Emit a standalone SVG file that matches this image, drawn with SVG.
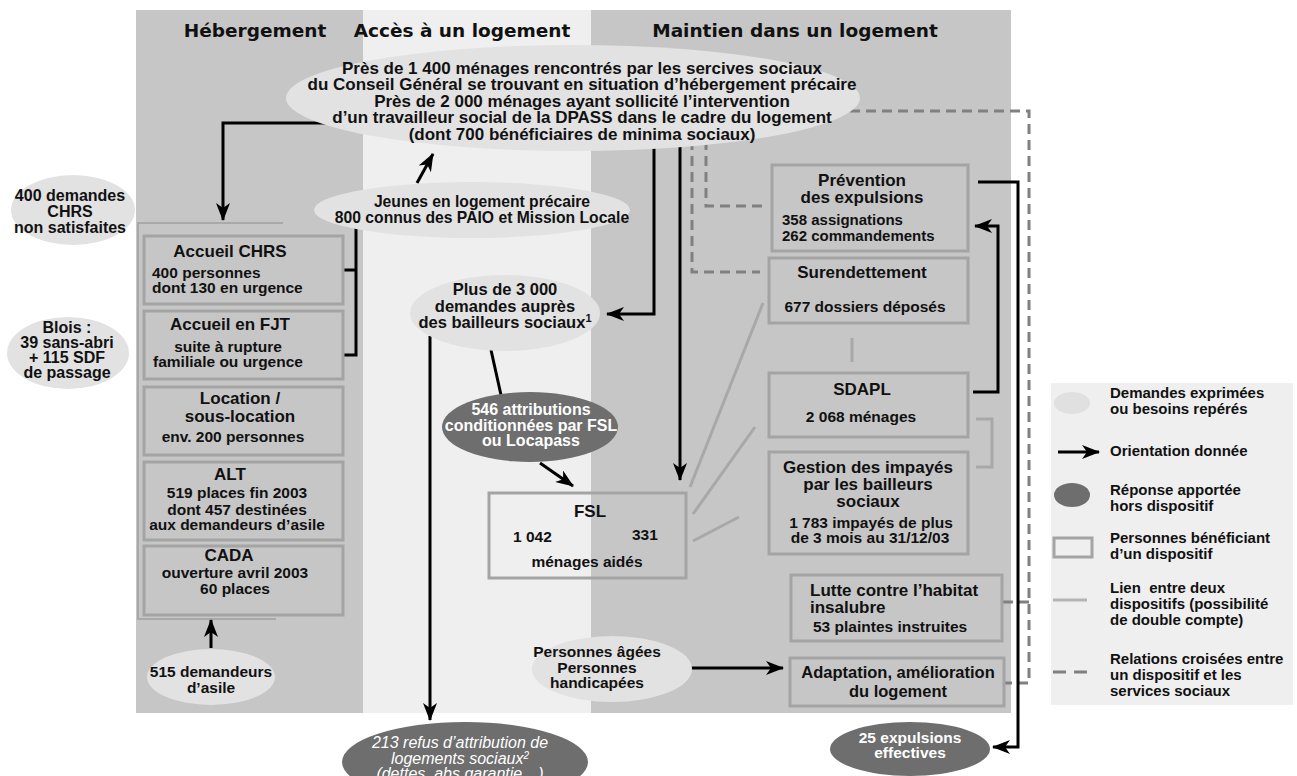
<svg xmlns="http://www.w3.org/2000/svg" width="1297" height="776" viewBox="0 0 1297 776">
<defs>
<marker id="ah" viewBox="0 0 18 14" markerWidth="18" markerHeight="14" refX="17" refY="7" orient="auto" markerUnits="userSpaceOnUse">
<path d="M0,0 L18,7 L0,14 L5,7 z" fill="#000"/>
</marker>
<style>
.pd{fill:#c6c6c6}
.pl{fill:#efefef}
.req{fill:#e2e2e2}
.resp{fill:#6e6e6e}
.box{fill:none;stroke:#a4a4a4;stroke-width:3}
.t{font-family:"Liberation Sans",Arial,sans-serif;font-weight:bold;fill:#111}
.w{fill:#fff}
.h{font-family:"DejaVu Sans",sans-serif;font-weight:bold;font-size:18.5px;fill:#111;text-anchor:middle}
.c{text-anchor:middle}
.s17{font-size:17px}
.s16{font-size:16px}
.s15{font-size:15.5px}
.arr{fill:none;stroke:#000;stroke-width:3;marker-end:url(#ah)}
.ln{fill:none;stroke:#000;stroke-width:3}
.lk{fill:none;stroke:#a8a8a8;stroke-width:3}
.ds{fill:none;stroke:#808080;stroke-width:3;stroke-dasharray:10 6}
.it{font-family:"Liberation Sans",Arial,sans-serif;font-style:italic;font-size:16px;fill:#fff;text-anchor:middle}
.lg{font-family:"Liberation Sans",Arial,sans-serif;font-weight:bold;font-size:15px;fill:#111;white-space:pre}
</style>
</defs>
<rect width="1297" height="776" fill="#fff"/>
<g id="panels">
<rect class="pd" x="136" y="10" width="227" height="703"/>
<rect class="pl" x="363" y="10" width="228" height="703"/>
<rect class="pd" x="591" y="10" width="420" height="703"/>
<path d="M283,223 H138 V619 H276" fill="none" stroke="#a0a0a0" stroke-width="1.5"/>
<text class="h" x="255" y="37">Hébergement</text>
<text class="h" x="462" y="37">Accès à un logement</text>
<text class="h" x="795" y="37">Maintien dans un logement</text>
</g>
<g id="connectors">
<path class="ds" d="M706,140 V206 H765"/>
<path class="ds" d="M692,140 V272 H760"/>
<path class="ds" d="M850,111 H1029 V683 H1004"/>
<path class="ds" d="M1003,602 H1029"/>
<path class="arr" d="M330,123 H223 V220"/>
<path class="ln" d="M343,270 H356 M356,228 V355 H343"/>
<path class="arr" d="M417,183 L433,154"/>
<path class="arr" d="M654,140 V314 H607"/>
<path class="arr" d="M680,140 V480"/>
<path class="ln" d="M491,350 L501,395"/>
<path class="arr" d="M540,463 L573,486"/>
<path class="arr" d="M430,336 V720"/>
<path class="arr" d="M211,648 V620"/>
<path class="arr" d="M690,668 H783"/>
<path class="arr" d="M978,182 H1018 V747 H993"/>
<path class="arr" d="M973,392 H998 V226 H975"/>
<path class="lk" d="M690,487 L763,303"/>
<path class="lk" d="M693,514 L755,427"/>
<path class="lk" d="M693,541 L739,517"/>
<path class="lk" d="M852,338 V362"/>
<path class="lk" d="M976,419 H992 V467 H976"/>
</g>
<g id="n-top">
<ellipse class="req" cx="573" cy="98" rx="287" ry="53"/>
<text class="t s17 c" x="582" y="73.5">Près de 1 400 ménages rencontrés par les sercives sociaux</text>
<text class="t s17 c" x="582" y="90">du Conseil Général se trouvant en situation d’hébergement précaire</text>
<text class="t s17 c" x="582" y="106.5">Près de 2 000 ménages ayant sollicité l’intervention</text>
<text class="t s17 c" x="582" y="123">d’un travailleur social de la DPASS dans le cadre du logement</text>
<text class="t s17 c" x="582" y="139.5">(dont 700 bénéficiaires de minima sociaux)</text>
</g>
<g id="n-400">
<ellipse class="req" cx="73" cy="210" rx="62" ry="35"/>
<text class="t s16 c" x="70" y="201">400 demandes</text>
<text class="t s16 c" x="70" y="217">CHRS</text>
<text class="t s16 c" x="70" y="233">non satisfaites</text>
</g>
<g id="n-blois">
<ellipse class="req" cx="68" cy="353" rx="61" ry="36"/>
<text class="t s16 c" x="67" y="333">Blois :</text>
<text class="t s16 c" x="67" y="348">39 sans-abri</text>
<text class="t s16 c" x="67" y="363">+ 115 SDF</text>
<text class="t s16 c" x="67" y="378">de passage</text>
</g>
<g id="n-chrs">
<rect class="box" x="144" y="236" width="199" height="68"/>
<text class="t s17 c" x="230" y="257">Accueil CHRS</text>
<text class="t s15" x="152" y="278">400 personnes</text>
<text class="t s15" x="152" y="293">dont 130 en urgence</text>
</g>
<g id="n-fjt">
<rect class="box" x="144" y="311" width="199" height="68"/>
<text class="t s17 c" x="230" y="330">Accueil en FJT</text>
<text class="t s15 c" x="228" y="352">suite à rupture</text>
<text class="t s15 c" x="228" y="367">familiale ou urgence</text>
</g>
<g id="n-location">
<rect class="box" x="144" y="387" width="199" height="68"/>
<text class="t s17 c" x="240" y="404">Location /</text>
<text class="t s17 c" x="240" y="422">sous-location</text>
<text class="t s15 c" x="233" y="442">env. 200 personnes</text>
</g>
<g id="n-alt">
<rect class="box" x="144" y="462" width="199" height="78"/>
<text class="t s17 c" x="230" y="480">ALT</text>
<text class="t s15 c" x="237" y="498">519 places fin 2003</text>
<text class="t s15 c" x="237" y="515">dont 457 destinées</text>
<text class="t s15 c" x="237" y="530">aux demandeurs d’asile</text>
</g>
<g id="n-cada">
<rect class="box" x="144" y="546" width="199" height="69"/>
<text class="t s17 c" x="229" y="561">CADA</text>
<text class="t s15 c" x="235" y="578">ouverture avril 2003</text>
<text class="t s15 c" x="235" y="594">60 places</text>
</g>
<g id="n-515">
<ellipse class="req" cx="211" cy="677" rx="64" ry="28"/>
<text class="t s15 c" x="211" y="677">515 demandeurs</text>
<text class="t s15 c" x="211" y="693">d’asile</text>
</g>
<g id="n-jeunes">
<ellipse class="req" cx="472" cy="210" rx="158" ry="28"/>
<text class="t c" style="font-size:15.7px" x="482" y="207">Jeunes en logement précaire</text>
<text class="t c" style="font-size:15.7px" x="482" y="223">800 connus des PAIO et Mission Locale</text>
</g>
<g id="n-3000">
<ellipse class="req" cx="505" cy="313" rx="95" ry="38"/>
<text class="t c" style="font-size:16.5px" x="505" y="295">Plus de 3 000</text>
<text class="t c" style="font-size:16.5px" x="505" y="312">demandes auprès</text>
<text class="t c" style="font-size:16.5px" x="505" y="328">des bailleurs sociaux<tspan font-size="11" dy="-6">1</tspan></text>
</g>
<g id="n-546">
<ellipse class="resp" cx="530" cy="427" rx="88" ry="35"/>
<text class="t s16 c w" x="531" y="415">546 attributions</text>
<text class="t s16 c w" x="531" y="431">conditionnées par FSL</text>
<text class="t s16 c w" x="531" y="446">ou Locapass</text>
</g>
<g id="n-fsl">
<rect class="box" x="489" y="493" width="197" height="85"/>
<text class="t s17 c" x="590" y="517">FSL</text>
<text class="t s15" x="513" y="542">1 042</text>
<text class="t s15" x="632" y="540">331</text>
<text class="t s15 c" x="587" y="567">ménages aidés</text>
</g>
<g id="n-213">
<ellipse class="resp" cx="465" cy="762" rx="123" ry="40"/>
<text class="it" x="460" y="748">213 refus d’attribution de</text>
<text class="it" x="460" y="764">logements sociaux<tspan font-size="10" dy="-5">2</tspan></text>
<text class="it" x="460" y="779">(dettes, abs garantie…)</text>
</g>
<g id="n-prevention">
<rect class="box" x="772" y="165" width="196" height="86"/>
<text class="t s17 c" x="862" y="186">Prévention</text>
<text class="t s17 c" x="862" y="203">des expulsions</text>
<text class="t" style="font-size:15px" x="782" y="225">358 assignations</text>
<text class="t" style="font-size:15px" x="782" y="241">262 commandements</text>
</g>
<g id="n-surendettement">
<rect class="box" x="769" y="258" width="199" height="65"/>
<text class="t s17 c" x="862" y="278">Surendettement</text>
<text class="t s15 c" x="865" y="312">677 dossiers déposés</text>
</g>
<g id="n-sdapl">
<rect class="box" x="769" y="373" width="199" height="64"/>
<text class="t s17 c" x="862" y="395">SDAPL</text>
<text class="t s15 c" x="861" y="422">2 068 ménages</text>
</g>
<g id="n-gestion">
<rect class="box" x="769" y="452" width="199" height="102"/>
<text class="t s17 c" x="868" y="473">Gestion des impayés</text>
<text class="t s17 c" x="868" y="490">par les bailleurs</text>
<text class="t s17 c" x="868" y="507">sociaux</text>
<text class="t s15 c" x="871" y="528">1 783 impayés de plus</text>
<text class="t s15 c" x="870" y="543">de 3 mois au 31/12/03</text>
</g>
<g id="n-lutte">
<rect class="box" x="791" y="575" width="211" height="66"/>
<text class="t s17" x="810" y="596">Lutte contre l’habitat</text>
<text class="t s17" x="810" y="613">insalubre</text>
<text class="t s15" x="813" y="632">53 plaintes instruites</text>
</g>
<g id="n-adaptation">
<rect class="box" x="790" y="658" width="214" height="48"/>
<text class="t c" style="font-size:16.5px" x="898" y="678">Adaptation, amélioration</text>
<text class="t c" style="font-size:16.5px" x="898" y="697">du logement</text>
</g>
<g id="n-agees">
<ellipse class="req" cx="612" cy="669" rx="80" ry="33"/>
<text class="t s15 c" x="597" y="657">Personnes âgées</text>
<text class="t s15 c" x="597" y="673">Personnes</text>
<text class="t s15 c" x="597" y="688">handicapées</text>
</g>
<g id="n-25">
<ellipse class="resp" cx="910" cy="749" rx="80" ry="27"/>
<text class="t s15 c w" x="910" y="743">25 expulsions</text>
<text class="t s15 c w" x="910" y="758">effectives</text>
</g>
<g id="legend">
<rect x="1051" y="383" width="242" height="322" fill="#efefef"/>
<ellipse cx="1072" cy="403" rx="18" ry="11" fill="#e0e0e0"/>
<text class="lg" x="1110" y="398">Demandes exprimées</text>
<text class="lg" x="1110" y="414">ou besoins repérés</text>
<path class="arr" d="M1058,452 H1099"/>
<text class="lg" x="1110" y="456">Orientation donnée</text>
<ellipse class="resp" cx="1072" cy="495" rx="18" ry="12"/>
<text class="lg" x="1110" y="495">Réponse apportée</text>
<text class="lg" x="1110" y="511">hors dispositif</text>
<rect class="box" x="1054" y="538" width="38" height="19"/>
<text class="lg" x="1110" y="543">Personnes bénéficiant</text>
<text class="lg" x="1110" y="559">d’un dispositif</text>
<path d="M1053,600 H1087" stroke="#b4b4b4" stroke-width="3"/>
<text class="lg" x="1110" y="593">Lien  entre deux</text>
<text class="lg" x="1110" y="609">dispositifs (possibilité</text>
<text class="lg" x="1110" y="625">de double compte)</text>
<path d="M1053,672 H1087" stroke="#808080" stroke-width="3" stroke-dasharray="13 8"/>
<text class="lg" x="1110" y="664">Relations croisées entre</text>
<text class="lg" x="1110" y="680">un dispositif et les</text>
<text class="lg" x="1110" y="696">services sociaux</text>
</g>
</svg>
